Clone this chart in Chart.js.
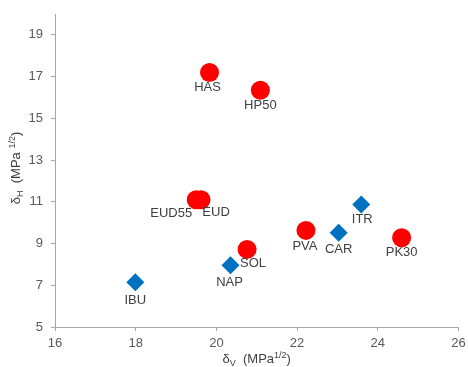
<!DOCTYPE html>
<html>
<head>
<meta charset="utf-8">
<script src="https://cdn.jsdelivr.net/npm/chart.js@4/dist/chart.umd.min.js"></script>
<style>
	html, body { margin: 0; padding: 0; background: #fff; }
	#wrap { width: 468px; height: 367px; }
</style>
</head>
<body>
<div id="wrap"><canvas id="chart"></canvas></div>
<script>
// Polymers (red circles)
const polymerNames = [ 'HAS', 'HP50', 'EUD55', 'EUD', 'PVA', 'SOL', 'PK30' ];
const polymerDv = [ 19.83, 21.09, 19.5, 19.62, 22.22, 20.76, 24.59 ];
const polymerDh = [ 17.2, 16.35, 11.1, 11.1, 9.63, 8.72, 9.28 ];

// Drugs (blue diamonds)
const drugNames = [ 'IBU', 'NAP', 'CAR', 'ITR' ];
const drugDv = [ 17.99, 20.35, 23.03, 23.59 ];
const drugDh = [ 7.15, 7.96, 9.52, 10.87 ];

// Axes
const xMin = 16, xMax = 26, xStep = 2;
const yMin = 5, yMax = 20;
const yTicks = [ 5, 7, 9, 11, 13, 15, 17, 19 ];

function toPoints( xs, ys ) {
	let pts = [];
	for ( let i = 0; i < xs.length; i++ ) {
		pts.push( { x: xs[i], y: ys[i] } );
	}
	return pts;
}

// where each label sits relative to its marker
const labelOffsets = {
	HAS: [ -2, 15 ], HP50: [ 0, 15 ], EUD55: [ -25, 14 ], EUD: [ 15, 13 ],
	PVA: [ -1, 16 ], SOL: [ 6, 14 ], PK30: [ 0, 15 ],
	IBU: [ 0, 18 ], NAP: [ -1, 17 ], CAR: [ 0, 17 ], ITR: [ 1, 15 ]
};

const textFont = '13px "Liberation Sans", Arial, sans-serif';

// Point labels
const pointLabels = {
	id: 'pointLabels',
	afterDatasetsDraw( chart ) {
		const ctx = chart.ctx;
		ctx.save();
		ctx.font = textFont;
		ctx.fillStyle = '#404040';
		ctx.textAlign = 'center';
		ctx.textBaseline = 'middle';
		chart.data.datasets.forEach( function ( ds, di ) {
			const meta = chart.getDatasetMeta( di );
			meta.data.forEach( function ( el, i ) {
				const name = ds.names[i];
				const off = labelOffsets[ name ] || [ 0, 15 ];
				ctx.fillText( name, el.x + off[0], el.y + off[1] );
			} );
		} );
		ctx.restore();
	}
};

// draw a run of text pieces: [text, size, baselineShift]
function drawRich( ctx, parts, cx, cy ) {
	let total = 0;
	parts.forEach( function ( p ) {
		ctx.font = p[1] + 'px "Liberation Sans", Arial, sans-serif';
		total += ctx.measureText( p[0] ).width;
	} );
	let x = cx - total / 2;
	parts.forEach( function ( p ) {
		ctx.font = p[1] + 'px "Liberation Sans", Arial, sans-serif';
		ctx.fillText( p[0], x, cy + p[2] );
		x += ctx.measureText( p[0] ).width;
	} );
}

// Axis titles with sub/superscripts
const axisTitles = {
	id: 'axisTitles',
	afterDraw( chart ) {
		const ctx = chart.ctx;
		const area = chart.chartArea;
		ctx.save();
		ctx.fillStyle = '#404040';
		ctx.textAlign = 'left';
		ctx.textBaseline = 'alphabetic';
		drawRich( ctx, [
			[ 'δ', 13, 0 ], [ 'V', 9, 3 ], [ '  (MPa', 13, 0 ], [ '1/2', 9, -5 ], [ ')', 13, 0 ]
		], ( area.left + area.right ) / 2, 363 );

		ctx.translate( 20, 168 );
		ctx.rotate( -Math.PI / 2 );
		drawRich( ctx, [
			[ 'δ', 13, 0 ], [ 'H', 9, 3 ], [ '  (MPa ', 13, 0 ], [ '1/2', 9, -5 ], [ ')', 13, 0 ]
		], 0, 0 );
		ctx.restore();
	}
};

const axisColor = '#a6a6a6';
const tickFont = { family: '"Liberation Sans", Arial, sans-serif', size: 13 };

new Chart( document.getElementById( 'chart' ).getContext( '2d' ), {
	type: 'scatter',
	data: {
		datasets: [
			{
				label: 'Polymers',
				names: polymerNames,
				data: toPoints( polymerDv, polymerDh ),
				pointStyle: 'circle',
				pointRadius: 9.5,
				pointHoverRadius: 9.5,
				backgroundColor: '#ff0000',
				borderColor: '#ff0000',
				borderWidth: 0
			},
			{
				label: 'Drugs',
				names: drugNames,
				data: toPoints( drugDv, drugDh ),
				pointStyle: 'rectRot',
				pointRadius: 9,
				pointHoverRadius: 9,
				backgroundColor: '#0070c0',
				borderColor: '#0070c0',
				borderWidth: 0
			}
		]
	},
	options: {
		responsive: true,
		maintainAspectRatio: false,
		animation: false,
		layout: { padding: { top: 14, right: 8, left: 0, bottom: 0 } },
		plugins: {
			legend: { display: false },
			tooltip: { enabled: false }
		},
		scales: {
			x: {
				type: 'linear',
				min: xMin,
				max: xMax,
				ticks: { stepSize: xStep, color: '#595959', font: tickFont, padding: 5 },
				grid: { display: true, drawOnChartArea: false, color: axisColor, tickLength: 4 },
				border: { color: axisColor, width: 1 },
				afterFit: function ( scale ) {
					scale.height = 40;
					scale.paddingRight = 0;
					scale.paddingLeft = 0;
				}
			},
			y: {
				type: 'linear',
				min: yMin,
				max: yMax,
				ticks: { color: '#595959', font: tickFont, padding: 8 },
				afterBuildTicks: function ( scale ) {
					scale.ticks = yTicks.map( function ( v ) { return { value: v }; } );
				},
				grid: { display: true, drawOnChartArea: false, color: axisColor, tickLength: 4 },
				border: { color: axisColor, width: 1 },
				afterFit: function ( scale ) {
					scale.width = 55;
					scale.paddingTop = 0;
					scale.paddingBottom = 0;
				}
			}
		}
	},
	plugins: [ pointLabels, axisTitles ]
} );
</script>
</body>
</html>
